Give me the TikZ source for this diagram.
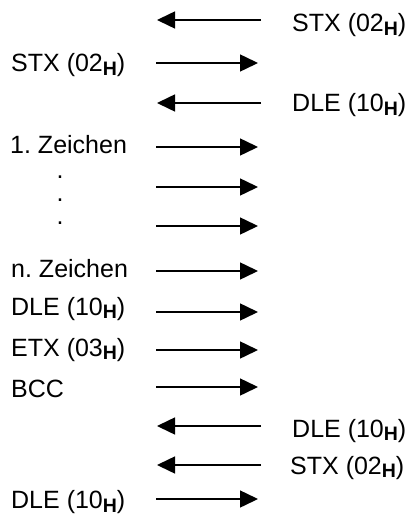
\documentclass[tikz,border=0pt]{standalone}
\usepackage{fontspec}
\setmainfont{Liberation Sans}
\usetikzlibrary{arrows.meta}
\frenchspacing
\newcommand{\hx}{\raisebox{-3.5pt}{\fontsize{19.5pt}{19.5pt}\selectfont\bfseries H}}

\begin{document}
\begin{tikzpicture}[
  x=1pt,y=-1pt,
  lbl/.style={anchor=base west,inner sep=0pt,font=\fontsize{25pt}{29pt}\selectfont},
  msg/.style={line width=1.5pt,-{Triangle[length=18pt,width=17pt]}}
]
\useasboundingbox (0,0) rectangle (411,516);
% sender -> receiver
\foreach \n/\y in {2/63,4/147,5/187,6/226,7/271,8/312,9/350,10/387,13/499} {
  \coordinate (s\n) at (156,\y);
  \coordinate (r\n) at (258,\y);
  \draw[msg] (s\n) -- (r\n);
}
% receiver -> sender
\foreach \n/\y in {1/20,3/103,11/426,12/465} {
  \coordinate (r\n) at (261,\y);
  \coordinate (s\n) at (157,\y);
  \draw[msg] (r\n) -- (s\n);
}
% sender side
\node[lbl] (l2) at (11,72) {STX (02\hx)};
\node[lbl] (l4) at (10,153) {1. Zeichen};
\foreach \y [count=\k] in {178,201,224}
  \node[lbl,anchor=base] (dot\k) at (60,\y) {.};
\node[lbl] (l7) at (11,277) {n. Zeichen};
\node[lbl] (l8) at (11,315) {DLE (10\hx)};
\node[lbl] (l9) at (11,356) {ETX (03\hx)};
\node[lbl] (l10) at (11,397) {BCC};
\node[lbl] (l13) at (11,508.5) {DLE (10\hx)};
% receiver side
\node[lbl] (l1) at (292,32) {STX (02\hx)};
\node[lbl] (l3) at (292,112) {DLE (10\hx)};
\node[lbl] (l11) at (292,437) {DLE (10\hx)};
\node[lbl] (l12) at (290,474) {STX (02\hx)};
\end{tikzpicture}
\end{document}
